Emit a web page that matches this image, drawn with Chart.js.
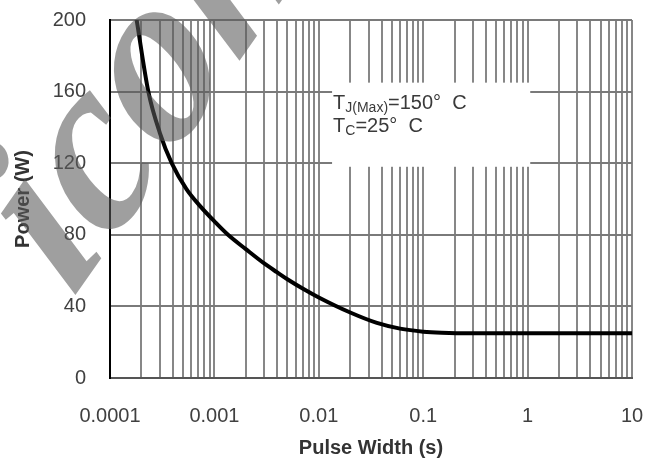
<!DOCTYPE html>
<html>
<head>
<meta charset="utf-8">
<script src="https://cdn.jsdelivr.net/npm/chart.js@4.4.1/dist/chart.umd.min.js"></script>
<style>
  html, body { margin: 0; padding: 0; background: #fff; }
</style>
</head>
<body>
<canvas id="myChart" width="657" height="460"></canvas>
<script>
const ctx = document.getElementById('myChart');

// curve
const pulseWidths = [0.00018, 0.000233, 0.0003, 0.00039, 0.00054, 0.00073, 0.001, 0.00135, 0.002, 0.003, 0.004, 0.005, 0.007, 0.01, 0.02, 0.036, 0.06, 0.1, 0.15, 0.3, 1, 10];
const powerValues = [200, 160, 137, 120, 105.5, 96, 87.5, 80, 72, 64, 59, 55.2, 50, 45, 36.6, 30.8, 27.6, 25.9, 25.3, 25, 25, 25];

// axis ticks
const xDecades = [0.0001, 0.001, 0.01, 0.1, 1, 10];
const xTickLabels = ['0.0001', '0.001', '0.01', '0.1', '1', '10'];
const xMinorSteps = [1, 2, 3, 4, 5, 6, 7, 8, 9];
const yTicks = [0, 40, 80, 120, 160, 200];

// note box (in data units) and its text
const noteBox = { xMin: 0.0134, xMax: 1.06, yMin: 118, yMax: 165 };
const noteLines = [
  { main: 'T', sub: 'J(Max)', rest: '=150°  C' },
  { main: 'T', sub: 'C', rest: '=25°  C' }
];
const watermarkText = 'icon';

const FONT = '"Liberation Sans", Arial, sans-serif';

function gridValues() {
  let vals = [];
  for (let d of xDecades.slice(0, -1)) {
    for (let m of xMinorSteps) vals.push(+(d * m).toPrecision(6));
  }
  vals.push(xDecades[xDecades.length - 1]);
  return vals;
}

const notePlugin = {
  id: 'note',
  beforeDatasetsDraw(chart) {
    const { ctx: c, scales: { x, y } } = chart;
    const l = x.getPixelForValue(noteBox.xMin), r = x.getPixelForValue(noteBox.xMax);
    const t = y.getPixelForValue(noteBox.yMax), b = y.getPixelForValue(noteBox.yMin);
    c.save();
    c.fillStyle = '#fff';
    c.fillRect(l, t, r - l, b - t);
    c.restore();
  },
  afterDraw(chart) {
    const { ctx: c, scales: { x, y } } = chart;
    const l = x.getPixelForValue(noteBox.xMin);
    const t = y.getPixelForValue(noteBox.yMax);
    c.save();
    c.fillStyle = '#3a3a3a';
    c.textBaseline = 'alphabetic';
    noteLines.forEach((ln, i) => {
      let px = l + 1;
      const py = t + 26 + i * 23;
      c.font = '20px ' + FONT;
      c.fillText(ln.main, px, py);
      px += c.measureText(ln.main).width;
      c.font = '14px ' + FONT;
      c.fillText(ln.sub, px, py + 3);
      px += c.measureText(ln.sub).width;
      c.font = '20px ' + FONT;
      c.fillText(ln.rest, px, py);
    });
    c.restore();

    // watermark
    c.save();
    c.translate(72, 300);
    c.rotate(-55 * Math.PI / 180);
    c.transform(1, 0, -0.15, 1, 0, 0);
    c.font = 'italic bold 235px "Liberation Serif", serif';
    c.fillStyle = 'rgba(90,90,90,0.58)';
    c.fillText(watermarkText, 0, 0);
    c.restore();
  }
};

function buildChart() {
  new Chart(ctx, {
    type: 'line',
    data: {
      datasets: [{
        data: pulseWidths.map((v, i) => ({ x: v, y: powerValues[i] })),
        borderColor: '#000',
        borderWidth: 4,
        pointRadius: 0,
        fill: false,
        cubicInterpolationMode: 'monotone'
      }]
    },
    options: {
      responsive: false,
      animation: false,
      layout: { padding: { top: 20, right: 25, left: 0, bottom: 0 } },
      plugins: { legend: { display: false }, tooltip: { enabled: false } },
      scales: {
        x: {
          type: 'logarithmic',
          min: xDecades[0],
          max: xDecades[xDecades.length - 1],
          grid: { color: '#878787', lineWidth: 2, drawTicks: false },
          border: { color: '#555', width: 2 },
          ticks: {
            autoSkip: false,
            maxRotation: 0,
            padding: 26,
            color: '#404040',
            font: { family: FONT, size: 20 },
            callback: function (value) {
              const i = xDecades.findIndex(d => Math.abs(Math.log10(d) - Math.log10(value)) < 1e-6);
              return i >= 0 ? xTickLabels[i] : '';
            }
          },
          title: {
            display: true,
            text: 'Pulse Width (s)',
            color: '#333',
            font: { family: FONT, size: 20, weight: 'bold' },
            padding: { top: 0, bottom: 0 }
          },
          afterBuildTicks(scale) { scale.ticks = gridValues().map(v => ({ value: v })); },
          afterFit(scale) {
            scale.height = 82;
            scale.paddingLeft = 0;
            scale.paddingRight = 0;
          }
        },
        y: {
          min: yTicks[0],
          max: yTicks[yTicks.length - 1],
          grid: { color: '#7a7a7a', lineWidth: 2, drawTicks: false },
          border: { color: '#000', width: 2 },
          ticks: {
            stepSize: 40,
            padding: 24,
            color: '#404040',
            font: { family: FONT, size: 20 }
          },
          title: {
            display: true,
            text: 'Power (W)',
            color: '#333',
            font: { family: FONT, size: 20, weight: 'bold' },
            padding: { top: 11, bottom: 0 }
          },
          afterBuildTicks(scale) { scale.ticks = yTicks.map(v => ({ value: v })); },
          afterFit(scale) {
            scale.width = 110;
            scale.paddingTop = 0;
            scale.paddingBottom = 0;
          }
        }
      }
    },
    plugins: [notePlugin]
  });
}

buildChart();
</script>
</body>
</html>
